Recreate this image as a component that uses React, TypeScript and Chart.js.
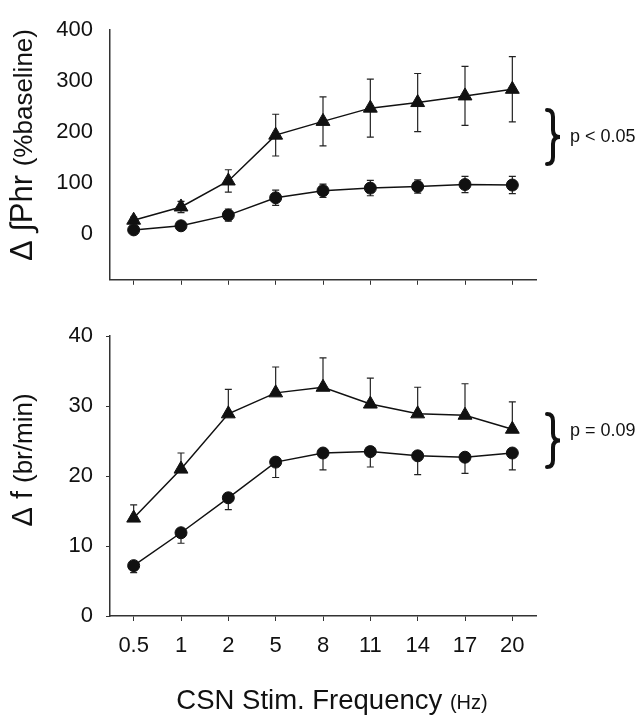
import React, { useEffect, useRef } from "react";
import { Chart, registerables } from "chart.js";

Chart.register(...registerables);

// ---------- data ----------
const categories = ["0.5", "1", "2", "5", "8", "11", "14", "17", "20"];

const phrTriangle = [27, 53, 104, 194, 221, 247, 258, 271, 284];
const phrTriangleErr = [6, 11, 22, 41, 48, 57, 57, 58, 64];
const phrCircle = [8, 16, 37, 71, 85, 90, 93, 97, 96];
const phrCircleErr = [4, 5, 12, 15, 13, 15, 13, 16, 17];

const fTriangle = [14.0, 21.0, 28.9, 31.9, 32.7, 30.3, 28.9, 28.7, 26.7];
const fTriangleErr = [1.9, 2.3, 3.5, 3.7, 4.2, 3.7, 3.8, 4.5, 3.9];
const fCircle = [7.2, 11.9, 16.9, 22.0, 23.3, 23.5, 22.9, 22.7, 23.3];
const fCircleErr = [1.0, 1.5, 1.7, 2.2, 2.4, 2.2, 2.7, 2.3, 2.4];

const phrTicks = [0, 100, 200, 300, 400];
const fTicks = [0, 10, 20, 30, 40];

const FONT = "'Liberation Sans', Arial, Helvetica, sans-serif";
const INK = "#111";
const AXIS = "#333";

type Part = { text: string; size: number };

function drawMixed(ctx: CanvasRenderingContext2D, parts: Part[], cx: number, cy: number, rotate: boolean, baseOff: number) {
  ctx.save();
  ctx.translate(cx, cy);
  if (rotate) ctx.rotate(-Math.PI / 2);
  ctx.fillStyle = INK;
  ctx.textBaseline = "alphabetic";
  ctx.textAlign = "left";
  const widths = parts.map((p) => {
    ctx.font = `${p.size}px ${FONT}`;
    return ctx.measureText(p.text).width;
  });
  const total = widths.reduce((a, b) => a + b, 0);
  let x = -total / 2;
  parts.forEach((p, i) => {
    ctx.font = `${p.size}px ${FONT}`;
    ctx.fillText(p.text, x, baseOff);
    x += widths[i];
  });
  ctx.restore();
}

function drawBrace(ctx: CanvasRenderingContext2D, x: number, y0: number, y1: number) {
  const ym = (y0 + y1) / 2;
  const xm = x + 6;
  const tip = x + 13;
  ctx.save();
  ctx.strokeStyle = INK;
  ctx.lineWidth = 4;
  ctx.lineCap = "round";
  ctx.beginPath();
  ctx.moveTo(x, y0);
  ctx.quadraticCurveTo(xm, y0, xm, y0 + 7);
  ctx.lineTo(xm, ym - 7);
  ctx.quadraticCurveTo(xm, ym, tip, ym);
  ctx.quadraticCurveTo(xm, ym, xm, ym + 7);
  ctx.lineTo(xm, y1 - 7);
  ctx.quadraticCurveTo(xm, y1, x, y1);
  ctx.stroke();
  ctx.restore();
}

const errorBarPlugin = {
  id: "errorBars",
  beforeDatasetsDraw(chart: any) {
    const ctx = chart.ctx as CanvasRenderingContext2D;
    const yScale = chart.scales.y;
    ctx.save();
    ctx.strokeStyle = "#222";
    ctx.lineWidth = 1.2;
    chart.data.datasets.forEach((ds: any, i: number) => {
      const meta = chart.getDatasetMeta(i);
      meta.data.forEach((pt: any, j: number) => {
        const v = ds.data[j];
        const e = ds.errors[j];
        const x = pt.x;
        const up = ds.errDir === "both" || ds.errDir === "up";
        const down = ds.errDir === "both" || ds.errDir === "down";
        const yTop = up ? yScale.getPixelForValue(v + e) : pt.y;
        const yBot = down ? yScale.getPixelForValue(v - e) : pt.y;
        ctx.beginPath();
        ctx.moveTo(x, yTop);
        ctx.lineTo(x, yBot);
        if (up) {
          ctx.moveTo(x - 3.5, yTop);
          ctx.lineTo(x + 3.5, yTop);
        }
        if (down) {
          ctx.moveTo(x - 3.5, yBot);
          ctx.lineTo(x + 3.5, yBot);
        }
        ctx.stroke();
      });
    });
    ctx.restore();
  },
};

function makeConfig(opts: {
  tri: number[];
  triErr: number[];
  triDir: string;
  circ: number[];
  circErr: number[];
  circDir: string;
  min: number;
  max: number;
  ticks: number[];
  padTop: number;
  xHeight: number;
  showXLabels: boolean;
  yTickMarks: boolean;
  annotate: (ctx: CanvasRenderingContext2D, chart: any) => void;
}) {
  const tickFont = { family: FONT, size: 22 };
  return {
    type: "line",
    data: {
      labels: categories,
      datasets: [
        {
          data: opts.tri,
          errors: opts.triErr,
          errDir: opts.triDir,
          borderColor: INK,
          backgroundColor: INK,
          borderWidth: 1.5,
          pointStyle: "triangle",
          pointRadius: 8,
          pointBorderWidth: 1,
          pointBackgroundColor: INK,
          pointBorderColor: INK,
          tension: 0,
          fill: false,
        },
        {
          data: opts.circ,
          errors: opts.circErr,
          errDir: opts.circDir,
          borderColor: INK,
          backgroundColor: INK,
          borderWidth: 1.5,
          pointStyle: "circle",
          pointRadius: 6,
          pointBorderWidth: 1,
          pointBackgroundColor: INK,
          pointBorderColor: INK,
          tension: 0,
          fill: false,
        },
      ],
    },
    options: {
      animation: false,
      responsive: false,
      events: [],
      layout: { padding: { left: 0, right: 105, top: opts.padTop, bottom: 0 } },
      plugins: {
        legend: { display: false },
        tooltip: { enabled: false },
        title: { display: false },
      },
      scales: {
        x: {
          type: "category",
          offset: true,
          grid: {
            display: true,
            drawOnChartArea: false,
            drawTicks: true,
            tickLength: 5,
            offset: false,
            color: AXIS,
            lineWidth: 1,
          },
          border: { display: true, color: AXIS, width: 1.5 },
          ticks: {
            display: opts.showXLabels,
            font: tickFont,
            color: INK,
            padding: 12,
            maxRotation: 0,
            autoSkip: false,
          },
          afterFit: (s: any) => {
            s.height = opts.xHeight;
          },
        },
        y: {
          min: opts.min,
          max: opts.max,
          afterBuildTicks: (s: any) => {
            s.ticks = opts.ticks.map((v) => ({ value: v }));
          },
          grid: {
            display: true,
            drawOnChartArea: false,
            drawTicks: opts.yTickMarks,
            tickLength: 4,
            color: AXIS,
          },
          border: { display: true, color: AXIS, width: 1.5 },
          ticks: {
            font: tickFont,
            color: INK,
            padding: opts.yTickMarks ? 13 : 17,
          },
          afterFit: (s: any) => {
            s.width = 110;
          },
        },
      },
    },
    plugins: [
      errorBarPlugin,
      {
        id: "annotations",
        afterDraw(chart: any) {
          opts.annotate(chart.ctx, chart);
        },
      },
    ],
  };
}

export default function App() {
  const topRef = useRef<HTMLCanvasElement | null>(null);
  const botRef = useRef<HTMLCanvasElement | null>(null);

  useEffect(() => {
    const topChart = new Chart(
      topRef.current as HTMLCanvasElement,
      makeConfig({
        tri: phrTriangle,
        triErr: phrTriangleErr,
        triDir: "both",
        circ: phrCircle,
        circErr: phrCircleErr,
        circDir: "both",
        min: -90,
        max: 400,
        ticks: phrTicks,
        padTop: 14,
        xHeight: 14,
        showXLabels: false,
        yTickMarks: false,
        annotate: (ctx) => {
          drawMixed(
            ctx,
            [
              { text: "Δ ∫Phr ", size: 31 },
              { text: "(%baseline)", size: 26 },
            ],
            22,
            145,
            true,
            10
          );
          drawBrace(ctx, 547, 110, 164);
          ctx.save();
          ctx.fillStyle = INK;
          ctx.font = `18px ${FONT}`;
          ctx.textBaseline = "middle";
          ctx.textAlign = "left";
          ctx.fillText("p < 0.05", 570, 137);
          ctx.restore();
        },
      }) as any
    );

    const botChart = new Chart(
      botRef.current as HTMLCanvasElement,
      makeConfig({
        tri: fTriangle,
        triErr: fTriangleErr,
        triDir: "up",
        circ: fCircle,
        circErr: fCircleErr,
        circDir: "down",
        min: 0,
        max: 40,
        ticks: fTicks,
        padTop: 23,
        xHeight: 103,
        showXLabels: true,
        yTickMarks: true,
        annotate: (ctx) => {
          drawMixed(
            ctx,
            [
              { text: "Δ f ", size: 29 },
              { text: "(br/min)", size: 26 },
            ],
            22,
            150,
            true,
            10
          );
          drawMixed(
            ctx,
            [
              { text: "CSN Stim. Frequency ", size: 27.5 },
              { text: "(Hz)", size: 20 },
            ],
            332,
            390,
            false,
            9
          );
          drawBrace(ctx, 547, 104, 157);
          ctx.save();
          ctx.fillStyle = INK;
          ctx.font = `18px ${FONT}`;
          ctx.textBaseline = "middle";
          ctx.textAlign = "left";
          ctx.fillText("p = 0.09", 570, 121);
          ctx.restore();
        },
      }) as any
    );

    return () => {
      topChart.destroy();
      botChart.destroy();
    };
  }, []);

  return (
    <div style={{ position: "absolute", left: 0, top: 0, width: 641, height: 719, background: "#fff" }}>
      <canvas
        ref={topRef}
        width={641}
        height={310}
        style={{ position: "absolute", left: 0, top: 0, width: 641, height: 310 }}
      />
      <canvas
        ref={botRef}
        width={641}
        height={409}
        style={{ position: "absolute", left: 0, top: 310, width: 641, height: 409 }}
      />
    </div>
  );
}
